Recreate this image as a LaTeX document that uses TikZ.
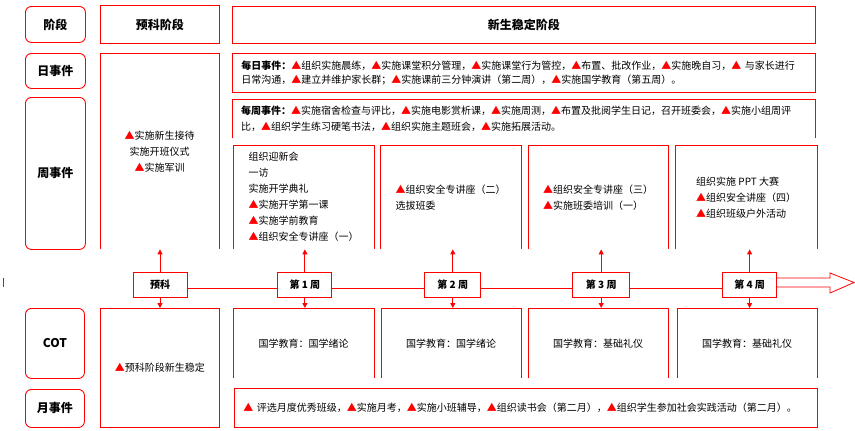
\documentclass[tikz,border=0pt]{standalone}
\usepackage{fontspec}
\setmainfont{Noto Sans CJK SC}
\usetikzlibrary{arrows.meta,positioning}
\newcommand{\tri}{\textcolor{red}{▲}}

\begin{document}
\begin{tikzpicture}[
  x=1pt, y=-1pt,
  font=\fontsize{10}{16}\selectfont,
  every node/.style={inner sep=0pt, anchor=north west},
  rowlbl/.style={draw=red, line width=0.9pt, rounded corners=6pt, minimum width=60pt,
    font=\fontsize{12}{14}\selectfont\bfseries},
  head/.style={draw=red, line width=0.9pt, font=\fontsize{12}{14}\selectfont\bfseries},
  cell/.style={align=center},
  wkbox/.style={align=left, minimum width=141pt, minimum height=104pt},
  cotbox/.style={align=center, minimum width=140pt, minimum height=70pt},
  wide/.style={align=left, text width=565pt, inner xsep=9pt, minimum height=39pt},
  stamp/.style={draw=red, line width=0.9pt, anchor=center, minimum height=25pt,
    font=\fontsize{10}{12}\selectfont\bfseries},
  link/.style={red, line width=0.9pt},
  arrow/.style={-{Triangle[length=5pt,width=5pt]}, red, line width=0.9pt}
]
\useasboundingbox (0,0) rectangle (855,431);

% row labels
\node[rowlbl, minimum height=36pt] (stage) at (25,6) {阶段};
\node[rowlbl, minimum height=35pt] (daily) at (25,53) {日事件};
\node[rowlbl, minimum height=152pt] (weekly) at (25,97) {周事件};
\node[rowlbl, minimum width=59pt, minimum height=70pt] (cot) at (25,308) {COT};
\node[rowlbl, minimum width=59pt, minimum height=38pt] (monthly) at (25,389) {月事件};

% stages
\node[head, minimum width=119pt, minimum height=38pt] (prehd) at (100,5) {预科阶段};
\node[head, minimum width=583pt, minimum height=37pt] (stabhd) at (232,6) {新生稳定阶段};

% daily and weekly routines
\node[wide, draw=red, line width=0.9pt, font=\fontsize{10}{14}\selectfont] (dayev) at (232,53)
  {\textbf{每日事件：}\tri 组织实施晨练，\tri 实施课堂积分管理，\tri 实施课堂行为管控，\tri 布置、批改作业，\tri 实施晚自习，\tri\ 与家长进行\\
   日常沟通，\tri 建立并维护家长群；\tri 实施课前三分钟演讲（第二周），\tri 实施国学教育（第五周）。};
\node[wide] (weekev) at (232,99)
  {\textbf{每周事件：}\tri 实施宿舍检查与评比，\tri 实施电影赏析课，\tri 实施周测，\tri 布置及批阅学生日记，召开班委会，\tri 实施小组周评\\
   比，\tri 组织学生练习硬笔书法，\tri 组织实施主题班会，\tri 实施拓展活动。};
\draw[link] (weekev.south west) |- (weekev.north east) -- (weekev.south east);

% events per week
\node[cell, minimum width=119pt, minimum height=196pt] (pre) at (100,53)
  {\tri 实施新生接待\\实施开班仪式\\\tri 实施军训};
\node[wkbox] (wk1) at (233,145)
  {组织迎新会\\一访\\实施开学典礼\\\tri 实施开学第一课\\\tri 实施学前教育\\\tri 组织安全专讲座（一）};
\node[wkbox] (wk2) at (380,145) {\tri 组织安全专讲座（二）\\选拔班委};
\node[wkbox, minimum width=140pt] (wk3) at (528,145) {\tri 组织安全专讲座（三）\\\tri 实施班委培训（一）};
\node[wkbox, minimum width=142pt] (wk4) at (675,145)
  {组织实施 PPT 大赛\\\tri 组织安全讲座（四）\\\tri 组织班级户外活动};
\foreach \b in {pre,wk1,wk2,wk3,wk4}
  \draw[link] (\b.south west) |- (\b.north east) -- (\b.south east);

% timeline
\node[stamp, minimum width=54pt] (t0) at (160,284.5) {预科};
\node[stamp, minimum width=54pt, right=90pt of t0] (t1) {第 1 周};
\node[stamp, minimum width=56pt, right=92pt of t1] (t2) {第 2 周};
\node[stamp, minimum width=57pt, right=91pt of t2] (t3) {第 3 周};
\node[stamp, minimum width=54pt, right=92pt of t3] (t4) {第 4 周};
\foreach \a/\b in {t0/t1,t1/t2,t2/t3,t3/t4}
  \draw[link] ([yshift=-3.5pt]\a.east) -- ([yshift=-3.5pt]\b.west);
\draw[link, line width=0.8pt] ([yshift=6.5pt]t4.east) -- ++(53,0) -- ++(0,-5) -- ++(24,9.5)
  -- ++(-24,10.5) -- ++(0,-6) -- ++(-53,0);
\coordinate (tick) at (3,278);
\draw[link] (tick) -- ++(0,9);

% COT
\node[cell, draw=red, line width=0.9pt, minimum width=119pt, minimum height=119pt] (c0) at (100,308)
  {\tri 预科阶段新生稳定};
\node[cotbox, minimum width=141pt] (c1) at (233,308) {国学教育：国学绪论};
\node[cotbox] (c2) at (381,308) {国学教育：国学绪论};
\node[cotbox] (c3) at (528,308) {国学教育：基础礼仪};
\node[cotbox] (c4) at (677,308) {国学教育：基础礼仪};
\foreach \b in {c1,c2,c3,c4}
  \draw[link] (\b.south west) |- (\b.north east) -- (\b.south east);

% monthly
\node[wide, draw=red, line width=0.9pt] (mon) at (234,388)
  {\tri\ 评选月度优秀班级，\tri 实施月考，\tri 实施小班辅导，\tri 组织读书会（第二月），\tri 组织学生参加社会实践活动（第二月）。};

\foreach \t/\u/\d in {t0/pre/c0,t1/wk1/c1,t2/wk2/c2,t3/wk3/c3,t4/wk4/c4} {
  \draw[arrow] (\t.north) -- (\t.north |- \u.south);
  \draw[arrow] (\t.south) -- (\t.south |- \d.north);
}
\end{tikzpicture}
\end{document}
